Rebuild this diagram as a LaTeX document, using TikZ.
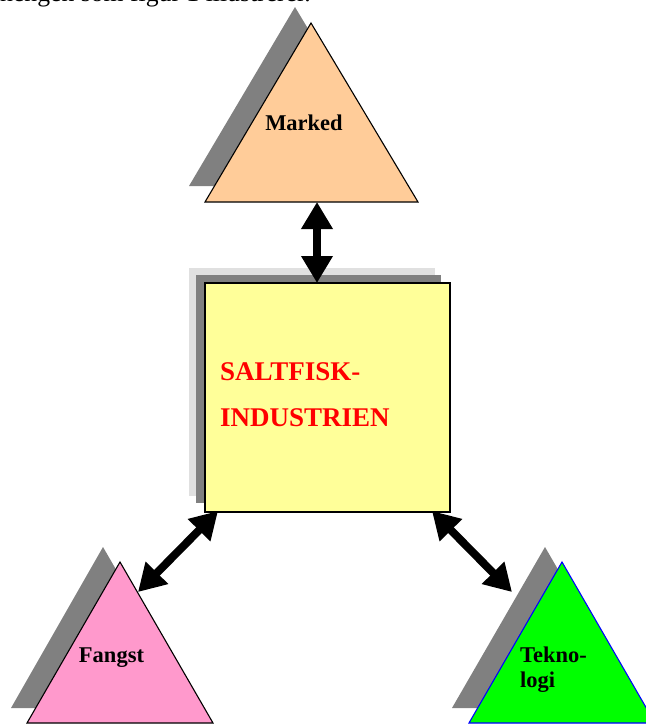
\documentclass[tikz,border=0pt]{standalone}
\usepackage{fontspec}
\setmainfont{Liberation Serif}
\usetikzlibrary{arrows.meta}
\definecolor{peach}{HTML}{FFCC99}
\definecolor{paleyellow}{HTML}{FFFF99}
\definecolor{pinkish}{HTML}{FF99CC}
\definecolor{brightgreen}{HTML}{00FF00}
\definecolor{shadowgray}{HTML}{808080}
\definecolor{lightshadow}{HTML}{E0E0E0}
\begin{document}
\begin{tikzpicture}[x=1pt,y=-1pt,
  tri/.style={draw=black, line width=1.1pt, line join=miter},
  lbl/.style={inner sep=0pt, font=\fontsize{22.5}{25}\selectfont\bfseries},
  dblarrow/.style={line width=8pt, arrows={Triangle[length=27pt,width=30pt]-Triangle[length=27pt,width=30pt]}}
]
\useasboundingbox (0,0) rectangle (646,724);
\begin{scope}
\clip (0,0) rectangle (646,724);

% partial line of running text at top (cut by the page edge, as in the reference)
\node[anchor=base west, inner sep=0pt, font=\fontsize{25.7}{30}\selectfont] (intro) at (0,1.2) {hengen som figur 1 illustrerer.};

% Marked triangle
\fill[shadowgray] (295,7) -- (402,186) -- (189,186) -- cycle;
\filldraw[tri, fill=peach] (311,23) -- (418,202) -- (205,202) -- cycle;
\node[lbl, anchor=base] (marked) at (304,130) {Marked};

% box with shadows
\fill[lightshadow] (189,268) rectangle (435,496);
\fill[shadowgray] (196,275) rectangle (441,503);
\node[draw=black, line width=1.1pt, fill=paleyellow, minimum width=245pt, minimum height=229pt, inner sep=0pt] (box) at (327.5,397.5) {};
\node[anchor=base west, inner sep=0pt, align=left, text=red, font=\fontsize{27}{46}\selectfont\bfseries] (boxlabel) at (220,426.5) {SALTFISK-\\INDUSTRIEN};

% Fangst triangle
\fill[shadowgray] (103,547) -- (196,708) -- (11,708) -- cycle;
\filldraw[tri, fill=pinkish] (120,562) -- (213,723) -- (27,723) -- cycle;
\node[lbl, anchor=base] (fangst) at (111.5,662) {Fangst};

% Teknologi triangle
\fill[shadowgray] (545,547) -- (638,708) -- (452,708) -- cycle;
\filldraw[tri, draw=blue, fill=brightgreen] (562,562) -- (655,723) -- (469,723) -- cycle;
\node[lbl, anchor=base west, align=left] (tekno) at (520,687) {Tekno-\\logi};

% connector end points
\coordinate (markedbase) at (317,202);
\coordinate (boxtop) at (317,283);
\coordinate (boxbl) at (218,511);
\coordinate (fangstedge) at (138,592);
\coordinate (boxbr) at (432,511);
\coordinate (teknoedge) at (512,592);

\draw[dblarrow] (markedbase) -- (boxtop);
\draw[dblarrow] (boxbl) -- (fangstedge);
\draw[dblarrow] (boxbr) -- (teknoedge);
\end{scope}
\end{tikzpicture}
\end{document}
